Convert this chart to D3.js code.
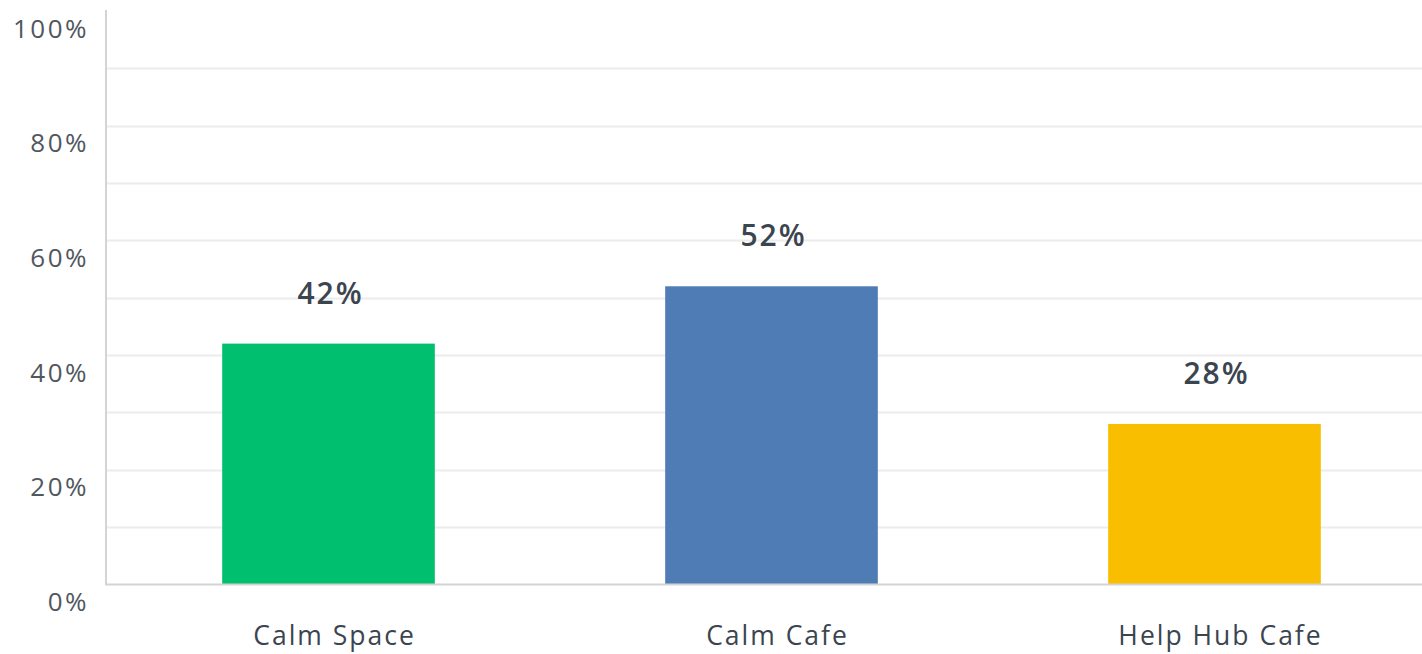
<!DOCTYPE html>
<html>
<head>
<meta charset="utf-8">
<script src="https://cdn.jsdelivr.net/npm/d3@7"></script>
<style>
  html, body { margin: 0; padding: 0; background: #ffffff; }
  svg { display: block; }
  text { font-family: "Open Sans", "Noto Sans", sans-serif; }
</style>
</head>
<body>
<svg id="chart" width="1422" height="654"></svg>
<script>
// Share of responses per venue (percent)
const categories = ["Calm Space", "Calm Cafe", "Help Hub Cafe"];
const values = [42, 52, 28];
const barColors = ["#00bf6f", "#507cb5", "#f9be00"];
const yTicks = [0, 20, 40, 60, 80, 100];
const gridTicks = [10, 20, 30, 40, 50, 60, 70, 80, 90];

const W = 1422, H = 654;
const margin = { left: 107, right: -14, top: 11, bottom: 69 };

const svg = d3.select("#chart");

const x = d3.scaleBand()
  .domain(categories)
  .range([margin.left, W - margin.right])
  .paddingInner(0.52)
  .paddingOuter(0.26);

const y = d3.scaleLinear()
  .domain([0, 100])
  .range([H - margin.bottom - 0.5, margin.top]);

// horizontal gridlines
svg.append("g")
  .selectAll("line")
  .data(gridTicks)
  .join("line")
  .attr("x1", margin.left)
  .attr("x2", W)
  .attr("y1", d => Math.round(y(d)) + 0.5)
  .attr("y2", d => Math.round(y(d)) + 0.5)
  .attr("stroke", "#ececec")
  .attr("stroke-width", 2);

// bars
svg.append("g")
  .selectAll("rect")
  .data(values)
  .join("rect")
  .attr("x", (d, i) => x(categories[i]))
  .attr("width", x.bandwidth())
  .attr("y", d => y(d))
  .attr("height", d => y(0) - y(d))
  .attr("fill", (d, i) => barColors[i]);

// value labels above bars
svg.append("g")
  .selectAll("text")
  .data(values)
  .join("text")
  .attr("x", (d, i) => x(categories[i]) + x.bandwidth() / 2 + 2)
  .attr("y", d => y(d) - 40)
  .attr("text-anchor", "middle")
  .attr("font-size", 30)
  .attr("font-weight", 600)
  .attr("letter-spacing", 2)
  .attr("fill", "#3b4550")
  .text(d => d + "%");

// y axis
const yAxis = d3.axisLeft(y)
  .tickValues(yTicks)
  .tickSize(0)
  .tickPadding(17)
  .tickFormat(d => d + "%");

const gy = svg.append("g")
  .attr("transform", `translate(${margin.left - 1},0)`)
  .call(yAxis);
gy.select(".domain")
  .attr("stroke", "#d4d4d4")
  .attr("stroke-width", 2)
  .attr("d", `M0,${margin.top - 1}V${y(0)}`);
gy.selectAll(".tick text")
  .attr("dy", "1.0em")
  .attr("font-size", 26)
  .attr("letter-spacing", 2.5)
  .attr("fill", "#50575e")
  .style("font-family", "'Open Sans', sans-serif");

// x axis
const xAxis = d3.axisBottom(x).tickSize(0).tickPadding(42);
const gx = svg.append("g")
  .attr("transform", `translate(0,${y(0)})`)
  .call(xAxis);
gx.select(".domain")
  .attr("stroke", "#d4d4d4")
  .attr("stroke-width", 2)
  .attr("d", `M${margin.left - 2},0H${W}`);
gx.selectAll(".tick text")
  .attr("dx", 6)
  .attr("font-size", 26.5)
  .attr("letter-spacing", 2)
  .attr("fill", "#3b4550")
  .style("font-family", "'Open Sans', sans-serif");
</script>
</body>
</html>
